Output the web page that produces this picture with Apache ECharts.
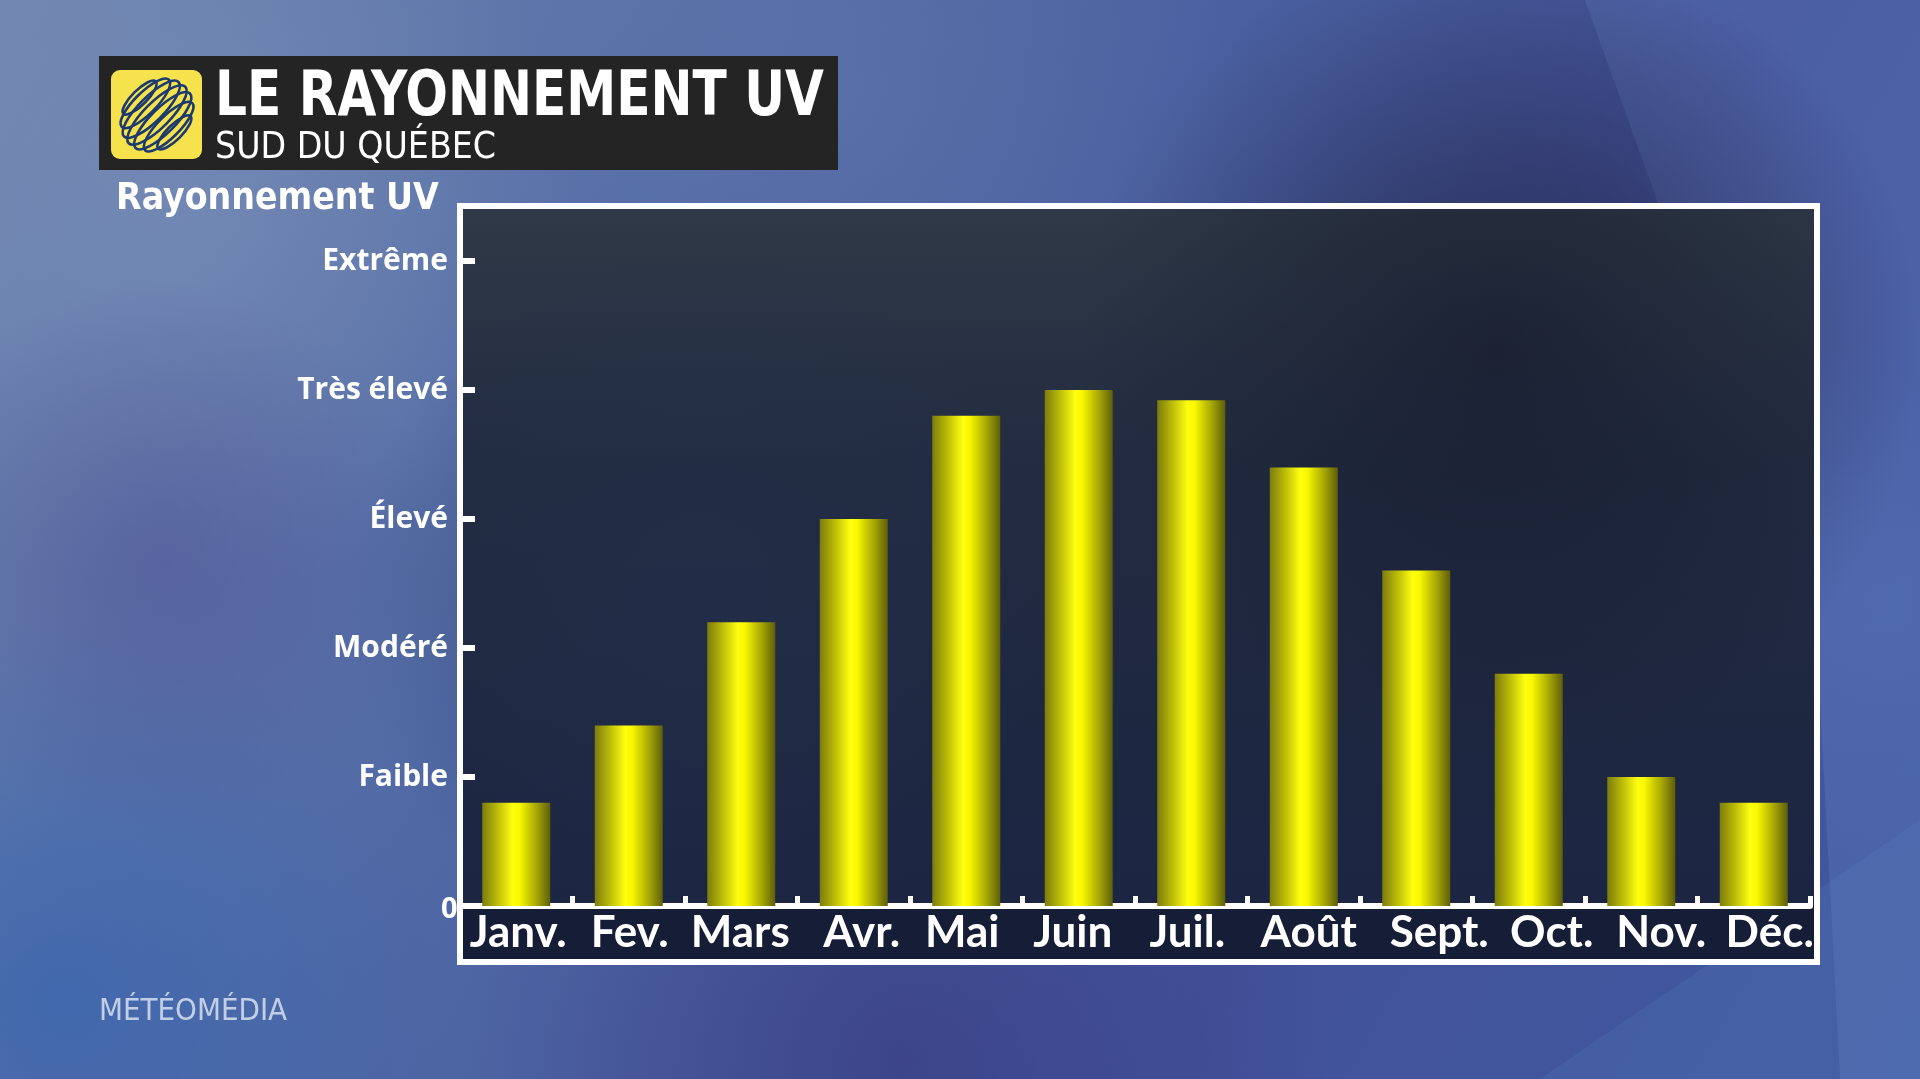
<!DOCTYPE html>
<html>
<head>
<meta charset="utf-8">
<script src="https://cdn.jsdelivr.net/npm/echarts@6/dist/echarts.min.js"></script>
<style>
html,body{margin:0;padding:0;width:1920px;height:1079px;overflow:hidden;background:#4f68a3;}
#chart{width:1920px;height:1079px;}
</style>
</head>
<body>
<div id="chart"></div>
<script>
// ---- data ----
var months = ['Janv.', 'Fev.', 'Mars', 'Avr.', 'Mai', 'Juin', 'Juil.', 'Août', 'Sept.', 'Oct.', 'Nov.', 'Déc.'];
var uvLevel = [0.8, 1.4, 2.2, 3.0, 3.8, 4.0, 3.92, 3.4, 2.6, 1.8, 1.0, 0.8];
var levelLabels = ['0', 'Faible', 'Modéré', 'Élevé', 'Très élevé', 'Extrême'];
var titleText = 'LE RAYONNEMENT UV';
var subtitleText = 'SUD DU QUÉBEC';
var axisTitle = 'Rayonnement UV';
var brandText = 'MÉTÉOMÉDIA';

// label style nudges (px) to mimic the original label placement
var labelNudge = [2, 1, -1, 8, -4, -6, -4, 5, 23, 23, 20, 16];

var COND = '"DejaVu Sans Condensed", "DejaVu Sans", sans-serif';

var chart = echarts.init(document.getElementById('chart'), null, {renderer: 'canvas'});

function blob(cx, cy, r, color, z) {
  return {
    type: 'circle', z: z || -90, silent: true,
    shape: {cx: cx, cy: cy, r: r},
    style: {fill: new echarts.graphic.RadialGradient(0.5, 0.5, 0.5, [
      {offset: 0, color: color}, {offset: 1, color: color.replace(/[\d.]+\)$/, '0)')}
    ])}
  };
}

// globe of rings in the logo
var rings = [];
(function () {
  var cx = 157, cy = 115, R = 40;
  var ang = Math.PI / 4;
  var ts = [-0.82, -0.55, -0.27, 0, 0.27, 0.55, 0.82];
  ts.forEach(function (t) {
    var k = Math.sqrt(1 - t * t);
    var ox = cx + t * R * 0.75 * Math.cos(ang);
    var oy = cy + t * R * 0.75 * Math.sin(ang);
    rings.push({
      type: 'ellipse', z: 22, silent: true,
      shape: {cx: ox, cy: oy, rx: R * k, ry: R * k * 0.32},
      originX: ox, originY: oy, rotation: Math.PI / 4,
      style: {fill: 'none', stroke: '#1c3a70', lineWidth: 2.6}
    });
  });
})();

var graphics = [
  // outer background
  {type: 'rect', z: -100, silent: true, shape: {x: 0, y: 0, width: 1920, height: 1079},
    style: {fill: new echarts.graphic.LinearGradient(0, 0, 1, 1, [
      {offset: 0, color: '#6f86b0'}, {offset: 0.35, color: '#5069a5'},
      {offset: 0.7, color: '#42529a'}, {offset: 1, color: '#3f58a0'}])}},
  blob(180, 200, 400, 'rgba(125,145,185,0.55)'),
  blob(850, 100, 400, 'rgba(105,122,172,0.35)'),
  blob(60, 1000, 380, 'rgba(55,100,175,0.7)'),
  blob(900, 1060, 430, 'rgba(55,55,125,0.6)'),
  blob(1560, 330, 360, 'rgba(62,62,128,0.5)'),
  blob(160, 560, 280, 'rgba(78,76,145,0.45)'),
  blob(1880, 600, 260, 'rgba(80,110,180,0.35)'),
  // right lighter band
  {type: 'polygon', z: -85, silent: true,
    shape: {points: [[1585, 0], [1920, 0], [1920, 1079], [1840, 1079], [1820, 700], [1700, 320]]},
    style: {fill: 'rgba(120,150,210,0.2)'}},
  {type: 'polygon', z: -85, silent: true,
    shape: {points: [[1540, 1079], [1920, 820], [1920, 1079]]},
    style: {fill: 'rgba(100,140,200,0.16)'}},

  // header box
  {type: 'rect', z: 20, silent: true, shape: {x: 99, y: 56, width: 739, height: 114},
    style: {fill: '#242424'}},
  {type: 'rect', z: 21, silent: true, shape: {x: 111, y: 70, width: 91, height: 89, r: 9},
    style: {fill: '#f6e24c'}},
  {type: 'text', z: 23, silent: true, x: 215, y: 68, scaleX: 0.9, originX: 0, originY: 0,
    style: {text: titleText, fill: '#ffffff', font: 'bold 62px ' + COND, textBaseline: 'top'}},
  {type: 'text', z: 23, silent: true, x: 215, y: 130, scaleX: 1.0, originX: 0, originY: 0,
    style: {text: subtitleText, fill: '#ffffff', font: '37px ' + COND, textBaseline: 'top'}},
  {type: 'text', z: 23, silent: true, x: 116, y: 181, scaleX: 1.0, originX: 0, originY: 0,
    style: {text: axisTitle, fill: '#ffffff', font: 'bold 37px ' + COND, textBaseline: 'top'}},
  {type: 'text', z: 23, silent: true, x: 99, y: 997, scaleX: 1.03, originX: 0, originY: 0,
    style: {text: brandText, fill: 'rgba(215,225,240,0.85)', font: '30px ' + COND, textBaseline: 'top'}},

  // plot frame interior
  {type: 'rect', z: -50, silent: true, shape: {x: 460, y: 206, width: 1357, height: 756},
    style: {fill: new echarts.graphic.LinearGradient(0, 0, 0, 1, [
      {offset: 0, color: '#2f3947'}, {offset: 0.35, color: '#222b40'},
      {offset: 1, color: '#1b2442'}])}},
  {type: 'circle', z: -49, silent: true, shape: {cx: 1500, cy: 350, r: 420},
    style: {fill: new echarts.graphic.RadialGradient(0.5, 0.5, 0.5, [
      {offset: 0, color: 'rgba(18,22,40,0.55)'}, {offset: 1, color: 'rgba(18,22,40,0)'}])}},
  {type: 'circle', z: -49, silent: true, shape: {cx: 700, cy: 600, r: 350},
    style: {fill: new echarts.graphic.RadialGradient(0.5, 0.5, 0.5, [
      {offset: 0, color: 'rgba(35,50,80,0.45)'}, {offset: 1, color: 'rgba(35,50,80,0)'}])}},
  // label band below axis
  {type: 'rect', z: -48, silent: true, shape: {x: 460, y: 905, width: 1357, height: 57},
    style: {fill: '#161d36'}},
  // frame border
  {type: 'rect', z: 10, silent: true, shape: {x: 460, y: 206, width: 1357, height: 756},
    style: {fill: 'none', stroke: '#ffffff', lineWidth: 6}}
].concat(rings);

var xData = months.map(function (m, i) {
  var d = labelNudge[i];
  return {value: m, textStyle: {padding: d >= 0 ? [0, 0, 0, 2 * d] : [0, -2 * d, 0, 0]}};
});

var option = {
  backgroundColor: 'transparent',
  animation: false,
  graphic: graphics,
  grid: {left: 460, right: 110, top: 261, bottom: 173, containLabel: false},
  xAxis: {
    type: 'category',
    data: xData,
    axisLine: {show: true, lineStyle: {color: '#ffffff', width: 6}},
    axisTick: {show: true, inside: true, length: 10, alignWithLabel: false,
      lineStyle: {color: '#ffffff', width: 5}},
    axisLabel: {color: '#ffffff', fontFamily: 'Lato', fontWeight: 'bold', fontSize: 44,
      margin: 5, interval: 0},
    splitLine: {show: false}
  },
  yAxis: {
    type: 'value', min: 0, max: 5, interval: 1,
    axisLine: {show: false},
    axisTick: {show: true, inside: true, length: 15, lineStyle: {color: '#ffffff', width: 6}},
    axisLabel: {color: '#ffffff', fontFamily: '"Open Sans"', fontWeight: 'bold', fontSize: 30,
      margin: 12,
      formatter: function (v) {
        var i = Math.round(v);
        return i === 0 ? '{z|' + levelLabels[0] + '}' : levelLabels[i];
      },
      rich: {z: {width: 7, align: 'left', padding: [8, 0, 0, 0], color: '#ffffff',
        fontFamily: '"Open Sans"', fontWeight: 'bold', fontSize: 29}}
    },
    splitLine: {show: false}
  },
  series: [{
    type: 'bar',
    data: uvLevel,
    barWidth: 68,
    z: 3,
    itemStyle: {
      color: new echarts.graphic.LinearGradient(0, 0, 1, 0, [
        {offset: 0, color: '#7c7c0e'},
        {offset: 0.2, color: '#b5b508'},
        {offset: 0.45, color: '#ffff10'},
        {offset: 0.55, color: '#f8f800'},
        {offset: 0.8, color: '#a6a606'},
        {offset: 1, color: '#5e5e0a'}
      ])
    }
  }]
};
chart.setOption(option);
</script>
</body>
</html>
